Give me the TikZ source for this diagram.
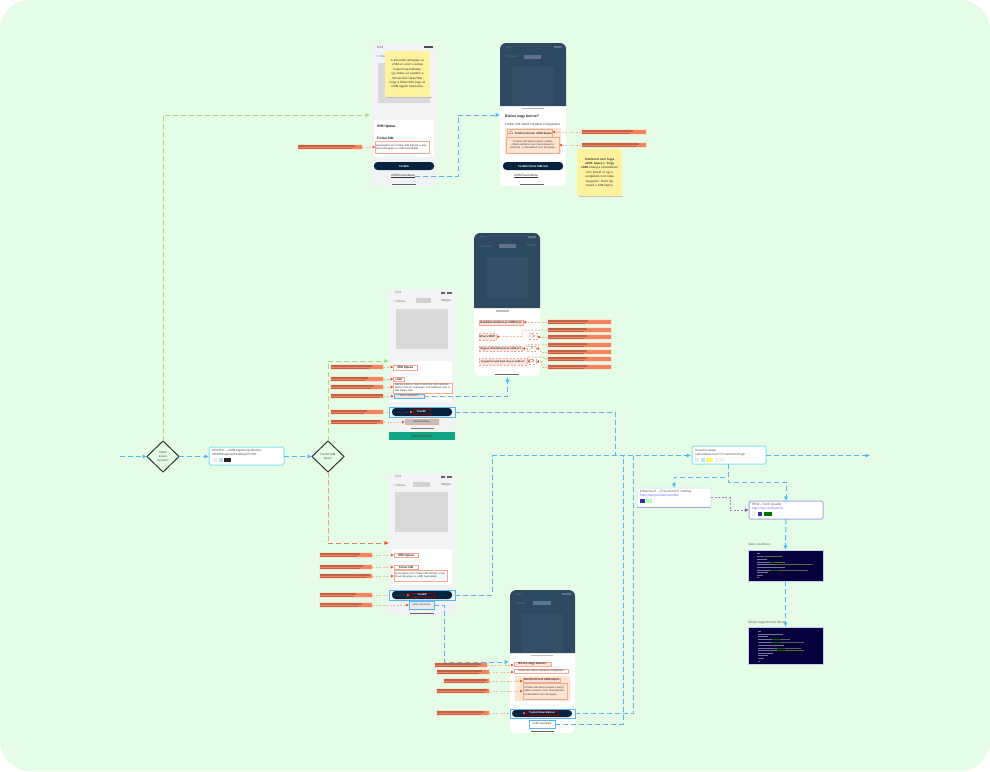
\documentclass[tikz,border=0pt]{standalone}
\usepackage{fontspec}
\setmainfont{Liberation Sans}
\usetikzlibrary{arrows.meta}
\definecolor{mint}{HTML}{E5FDE7}
\definecolor{phg}{HTML}{F2F3F5}
\definecolor{imgg}{HTML}{D9D9D9}
\definecolor{dk}{HTML}{2E4A63}
\definecolor{dkb}{HTML}{354F68}
\definecolor{dkt}{HTML}{5F7488}
\definecolor{navy}{HTML}{04233F}
\definecolor{flow}{HTML}{58B6F6}
\definecolor{flowg}{HTML}{A0DE78}
\definecolor{flowr}{HTML}{F0A68E}
\definecolor{flowra}{HTML}{EE5A30}
\definecolor{purp}{HTML}{B27CC6}
\definecolor{barf}{HTML}{F2845F}
\definecolor{bars}{HTML}{BE6249}
\definecolor{halo}{HTML}{F6E6CC}
\definecolor{hlf}{HTML}{FCE3DC}
\definecolor{hld}{HTML}{F7A890}
\definecolor{anna}{HTML}{F5BBA6}
\definecolor{anntip}{HTML}{EE5A30}
\definecolor{stick}{HTML}{FFF29E}
\definecolor{panel}{HTML}{FFE5D0}
\definecolor{code}{HTML}{05023D}
\definecolor{teal}{HTML}{10A683}
\definecolor{boxc}{HTML}{7FE6EA}
\definecolor{boxp}{HTML}{A3A8E4}
\definecolor{btnd}{HTML}{3A3040}
\tikzset{
  x=1pt,y=-1pt,
  sm/.style={font=\fontsize{3.1}{3.9}\selectfont,text=#1},
  sm/.default=black!75,
  phone/.style={fill=phg,rounded corners=5pt},
  phonew/.style={fill=white,rounded corners=5pt},
  card/.style={fill=white,rounded corners=2pt},
  img/.style={fill=imgg},
  btn/.style={fill=navy,rounded corners=3.5pt,font=\fontsize{2.8}{3.4}\selectfont\bfseries,text=white},
  bluehl/.style={draw=flow,line width=1pt},
  hl/.style={fill=hlf,draw=hld,line width=1pt,font=\fontsize{3}{3.6}\selectfont,text=black!80,align=left},
  hld2/.style={fill=hlf,draw=hld,line width=1pt,dash pattern=on 2pt off 1.5pt,font=\fontsize{3}{3.6}\selectfont,text=black!80},
  barn/.style={fill=barf,draw=halo,line width=1pt},
  ann/.style={draw=anna,line width=1pt,dash pattern=on 2pt off 1.5pt,-{Latex[length=2.8pt,width=2.8pt,color=anntip]}},
  fl/.style={draw=flow,line width=1pt,dash pattern=on 5pt off 3pt,-{Latex[length=4.5pt,width=4.5pt]}},
  flg/.style={fl,draw=flowg},
  flr/.style={fl,draw=flowr,-{Latex[length=4.5pt,width=4.5pt,color=flowra]}},
  flp/.style={draw=purp,line width=1pt,dash pattern=on 2pt off 1.5pt,-{Latex[length=4pt,width=4pt,color=purp!80!black]}},
  dia/.style={fill=mint,draw=black!80,line width=1pt},
  infobox/.style={fill=white,draw=boxc,line width=1pt,rounded corners=1.5pt},
  sticky/.style={fill=stick,font=\fontsize{3}{4.4}\selectfont,text=black!80,align=center},
  codeb/.style={fill=code,draw=boxp!60!white,line width=.3pt},
  lbl/.style={font=\fontsize{3.2}{4}\selectfont,text=black!60,anchor=west,inner sep=0pt},
  tx/.style={inner sep=0pt,anchor=west}
}
% name x1 y1 x2 y2 style text
\newcommand\bx[7]{\node[anchor=north west,inner sep=0pt,outer sep=0pt,minimum width={((#4)-(#2))*1pt},minimum height={((#5)-(#3))*1pt},#6] (#1) at (#2,#3) {#7};}
% name x1 y x2 stripe-end
\newcommand\orbar[5]{\bx{#1}{#2}{#3-2.6}{#4}{#3+2.6}{barn}{}
  \fill[bars] (#2+.5,#3-1.7) rectangle (#5,#3+.3);
  \fill[bars] (#2+.5,#3+.9) rectangle (#5-3,#3+1.9);}
\newcommand\swatch[5]{\fill[#5] (#1,#2) rectangle (#3,#4);}
% status + nav
\newcommand\chrome[4]{% x1 x2 y text colour
  \node[tx,sm=#4] (st#3) at (#1+6,#3+3.5) {9:41};
  \fill[#4] (#2-8,#3+2.5) rectangle (#2-3,#3+4.5);
  \fill[#4] (#2-14,#3+2.5) rectangle (#2-10,#3+4.5);
  \node[tx,sm=#4] (nav#3) at (#1+4,#3+12) {< Vissza};
  \node[anchor=east,inner sep=0pt,sm=#4] (can#3) at (#2-4,#3+12) {Mégse};
}
\begin{document}
\begin{tikzpicture}
\useasboundingbox (0,0) rectangle (990,771);
\fill[white] (0,0) rectangle (990,771);
\fill[mint,rounded corners=30pt] (0,0) rectangle (990,771);

% ---------- phone 1
\bx{p1}{372}{44}{437}{186}{phone}{}
\node[tx,sm] (p1t) at (377,47) {9:41};
\fill[black!70] (424,46) rectangle (433,48);
\node[tx,sm=black!60] (p1n) at (376,56) {< Vissza};
\bx{p1img}{378}{63}{430}{103}{img}{}
\bx{p1card}{374}{120}{434}{157}{card}{}
\node[tx,font=\fontsize{3.6}{4}\selectfont\bfseries,text=black!85] (p1a) at (377,127) {SIM típusa};
\node[tx,font=\fontsize{3.2}{4}\selectfont\bfseries,text=black!85] (p1b) at (377,138) {Fizikai SIM};
\bx{p1hl}{375.5}{141}{429}{153}{hl,fill=white,text width=52pt,inner sep=.5pt,font=\fontsize{2.5}{3.2}\selectfont}{Amennyiben nincs fizikai SIM kártyád, a telefonod támogatja az eSIM használatát}
\bx{p1btn}{374}{162}{434}{170}{btn}{Tovább}
\node[sm=black!80,inner sep=0pt] (p1l) at (403,176) {\underline{eSIM használata}};
\fill[black!60] (392,184) rectangle (416,185);
\fill[black!25] (386.5,97) rectangle (431.5,98);
\bx{s1}{385}{51}{430}{97}{sticky,text width=36pt,inner sep=0pt}{A készülék támogatja az eSIM-et, ezért a kártya helyett használhatja, így ebben az esetben a felhasználó választhat, hogy a fizikai SIM vagy az eSIM legyen használva.}
\orbar{b11}{297}{147}{362}{355}

% ---------- phone 2
\bx{p2}{500}{43}{566}{186}{phonew}{}
\fill[dk] (500,106) [rounded corners=6pt] -- (500,43) -- (566,43) [sharp corners] -- (566,106) -- cycle;
\fill[dkb] (512,67) rectangle (554,106);
\node[tx,sm=dkt] (p2t) at (506,47) {9:41};
\fill[dkt] (554,46) rectangle (562,48);
\node[tx,sm=dkt] (p2n) at (505,56) {< Vissza};
\fill[dkt] (524,55) rectangle (541,59);
\fill[black!30] (522,108) rectangle (544,109);
\node[tx,font=\fontsize{3.6}{4}\selectfont\bfseries,text=black!85] (p2a) at (505,117) {Biztos vagy benne?};
\node[tx,sm] (p2b) at (505,124.5) {Fizikai SIM nélkül folytatod a folyamatot.};
\bx{p2pan}{505}{128}{561}{154}{fill=panel}{}
\bx{p2h}{507.5}{129}{552}{137}{hl,fill=panel,font=\fontsize{2.9}{3.4}\selectfont\bfseries}{\,$\triangle$ Telefonod nem eSIM-képes}
\bx{p2q}{506.5}{137}{559}{153}{hl,fill=panel,text width=48pt,inner sep=.5pt,font=\fontsize{2.5}{3.2}\selectfont,align=center}{A fizikai SIM kártya helyett a kártya nélküli eszközön nem használhatod a telefonod. A készüléked nem támogatja.}
\bx{p2btn}{503}{162}{563}{170}{btn}{Tovább fizikai SIM-mel}
\node[sm=black!80,inner sep=0pt] (p2l) at (526,176) {\underline{eSIM használata}};
\fill[black!60] (520,184) rectangle (544,185);
\orbar{b21}{581}{132}{646}{633}
\orbar{b22}{581}{145}{646}{639}
\fill[black!22] (578.5,196) rectangle (622.5,197);
\bx{s2}{577}{149}{622}{196}{sticky,text width=37pt,inner sep=0pt}{\textbf{Telefonod nem fogja eSIM- képes-t. Fogy eSIM} elvileg a készüléknek nem érhető el, így a szolgáltató nem tudja megnyitni. Ezért így marad a SIM-kártya.}

% ---------- phone 3
\bx{p3}{389}{289}{455}{431}{phone}{}
\chrome{389}{455}{289}{black!60}
\bx{p3bar}{416}{298}{431}{303}{fill=black!18}{}
\bx{p3img}{396}{309}{448}{349}{img}{}
\bx{p3card}{392}{361}{452}{402}{card}{}
\bx{h31}{393.5}{365}{417}{370}{hl,fill=white,font=\fontsize{3.2}{3.6}\selectfont\bfseries}{SIM típusa}
\bx{h32}{393.5}{377}{404}{381.5}{hl,fill=white,font=\fontsize{2.8}{3.4}\selectfont\bfseries}{eSIM}
\bx{h33}{393.5}{383}{452}{393}{hl,fill=white,text width=56pt,inner sep=.5pt,font=\fontsize{2.5}{3}\selectfont}{Néhány eSIM-et csak a telefonon lehet aktiválni, amihez internet szükséges, és beállítások után a SIM kártya aktív}
\bx{h34}{394}{394}{424}{398}{fill=hlf,draw=flow,line width=1pt,font=\fontsize{2.5}{3}\selectfont,text=black!70}{Nincs eSIM-ed?}
\bx{p3btn}{392}{408}{452}{416}{btn}{}
\bx{p3bh}{389}{407}{455}{417}{bluehl}{}
\bx{h35}{413}{409.5}{430}{414}{draw=red!55!black,line width=.6pt,font=\fontsize{2.6}{3}\selectfont\bfseries,text=white}{Tovább}
\bx{h36}{405}{419.5}{438}{424}{fill=black!25,draw=hld,line width=1pt,font=\fontsize{2.4}{3}\selectfont,text=black!80}{eSIM beállítása}
\bx{p3grn}{389}{432}{455}{440}{fill=teal,font=\fontsize{3}{3.5}\selectfont\bfseries,text=black!70}{Bekövetkezhet}
\fill[black!50] (411,428) rectangle (434,429);
\orbar{b31}{330}{367}{383}{372}
\orbar{b32}{330}{379}{383}{368}
\orbar{b33}{330}{387}{383}{374}
\orbar{b34}{330}{396}{383}{382.5}
\orbar{b35}{330}{412}{383}{367}
\orbar{b36}{330}{422}{383}{380}

% ---------- phone 4
\bx{p4}{474}{233}{540}{376}{phonew}{}
\fill[dk] (474,308) [rounded corners=6pt] -- (474,233) -- (540,233) [sharp corners] -- (540,308) -- cycle;
\fill[dkb] (487,257) rectangle (528,298);
\node[tx,sm=dkt] (p4t) at (480,237) {9:41};
\fill[dkt] (528,236) rectangle (536,238);
\node[tx,sm=dkt] (p4n) at (479,246) {< Vissza};
\fill[dkt] (499,244) rectangle (516,248);
\node[anchor=east,inner sep=0pt,sm=dkt] (p4c) at (536,246) {Mégse};
\fill[black!25] (496,310) rectangle (509,312);
\bx{h41}{479}{320}{523}{325}{hl,font=\fontsize{3}{3.4}\selectfont\bfseries}{Beállítás közben az eSIM-hez}
\bx{h42}{479}{333.5}{496}{340}{hld2,font=\fontsize{2.8}{3.2}\selectfont\bfseries}{Mi az eSIM?}
\bx{h43}{479}{346}{522}{351}{hld2,font=\fontsize{2.6}{3.2}\selectfont\bfseries}{Hogyan aktiválhatom az eSIM-et?}
\bx{h44}{479}{358.5}{527}{365}{hld2,font=\fontsize{2.4}{3}\selectfont\bfseries}{Fogyasztói adatokkal meg az eSIM-et?}
\bx{c41}{529}{333}{537}{339.5}{hld2,fill=white}{\fontsize{3}{3}\selectfont$>$}
\bx{c42}{527}{346}{536}{351}{hld2,fill=white}{\fontsize{3}{3}\selectfont$>$}
\bx{c43}{529}{359}{536}{364}{hld2,fill=white}{\fontsize{3}{3}\selectfont$>$}
\fill[black!60] (495,374) rectangle (519,375);
\orbar{b41}{547}{322}{611}{588}
\orbar{b42}{547}{330}{611}{587}
\orbar{b43}{547}{337}{611}{587}
\orbar{b44}{547}{345}{611}{587}
\orbar{b45}{547}{352}{611}{587}
\orbar{b46}{547}{359}{611}{587}
\orbar{b47}{547}{367}{611}{587}

% ---------- phone 5
\bx{p5}{389}{473}{455}{615}{phone}{}
\chrome{389}{455}{473}{black!60}
\bx{p5bar}{413}{482}{430}{487}{fill=black!18}{}
\bx{p5img}{395}{492}{448}{532}{img}{}
\bx{p5card}{392}{549}{452}{585}{card}{}
\bx{h51}{394}{553}{418}{557.5}{hl,fill=white,font=\fontsize{3.2}{3.6}\selectfont\bfseries}{SIM típusa}
\bx{h52}{394}{565}{418}{569}{hl,fill=white,font=\fontsize{2.8}{3.2}\selectfont\bfseries}{Fizikai SIM}
\bx{h53}{394}{570.5}{447}{581}{hl,fill=white,text width=51pt,inner sep=.5pt,font=\fontsize{2.5}{3}\selectfont}{Amennyiben nincs fizikai SIM kártyád, a telefonod támogatja az eSIM használatát}
\bx{p5btn}{392}{591}{452}{599}{btn}{}
\bx{p5bh}{389}{590}{455}{600}{bluehl}{}
\bx{h54}{410}{593}{434}{597}{draw=red!55!black,line width=.6pt,font=\fontsize{2.6}{3}\selectfont\bfseries,text=white}{Tovább}
\bx{h55}{409}{601}{434}{609}{draw=flow,line width=1pt,fill=black!8,font=\fontsize{2.4}{3}\selectfont,text=black!75}{eSIM használata}
\fill[black!60] (410,613) rectangle (434,614);
\orbar{b51}{319}{555}{372}{360}
\orbar{b52}{319}{567}{372}{363}
\orbar{b53}{319}{576}{372}{370}
\orbar{b54}{319}{595}{372}{356}
\orbar{b55}{319}{605}{372}{362}

% ---------- phone 6
\bx{p6}{510}{590}{575}{733}{phonew}{}
\fill[dk] (510,653) [rounded corners=6pt] -- (510,590) -- (575,590) [sharp corners] -- (575,653) -- cycle;
\fill[dkb] (522,614) rectangle (563,653);
\node[tx,sm=dkt] (p6t) at (516,594) {9:41};
\fill[dkt] (562,593) rectangle (571,595);
\node[tx,sm=dkt] (p6n) at (514,603) {< Vissza};
\fill[dkt] (533,601) rectangle (551,605);
\fill[black!25] (531,655) rectangle (553,656);
\bx{h61}{514}{662}{551}{666}{hl,font=\fontsize{3}{3.4}\selectfont\bfseries}{Biztos vagy benne?}
\bx{h62}{514}{669}{568}{673}{hl,fill=white,font=\fontsize{2.6}{3}\selectfont}{Fizikai SIM nélkül folytatod a folyamatot.}
\bx{p6pan}{515}{676}{570}{701}{fill=panel}{}
\bx{h63}{523}{678}{560}{682}{hl,font=\fontsize{2.8}{3.2}\selectfont\bfseries}{Telefonod nem eSIM-képes}
\bx{h64}{523}{683.5}{567}{699}{hl,fill=panel,text width=42pt,inner sep=.5pt,font=\fontsize{2.5}{3.1}\selectfont}{A fizikai SIM kártya helyett a kártya nélküli eszközön nem használhatod. A készüléked nem támogatja.}
\bx{p6btn}{512}{710}{572}{717}{btn}{}
\bx{p6bh}{510}{709}{575}{718}{bluehl}{}
\bx{h65}{526}{711}{558}{715}{draw=red!55!black,line width=.6pt,font=\fontsize{2.4}{3}\selectfont\bfseries,text=white}{Tovább fizikai SIM-mel}
\bx{h66}{529}{720}{555}{728}{draw=flow,line width=1pt,font=\fontsize{2.5}{3}\selectfont,text=black!80}{eSIM használata}
\fill[black!60] (531,731) rectangle (554,732);
\orbar{b61}{434}{665}{487}{481}
\orbar{b62}{436}{672}{489}{482}
\orbar{b63}{443}{681}{489}{487}
\orbar{b64}{436}{691}{489}{487}
\orbar{b65}{436}{713}{489}{484}

% ---------- left flow
\coordinate (inl) at (120,456.5);
\path[dia,draw] (147,456.5) -- (163,441) -- (179,456.5) -- (163,472) -- cycle;
\node[align=center,font=\fontsize{3}{3.6}\selectfont,text=black!70,inner sep=0pt] (d1t) at (163,456.5) {Mobil\\képes\\kezelni?};
\coordinate (d1N) at (163,441); \coordinate (d1E) at (179,456.5); \coordinate (d1W) at (147,456.5);
\bx{bx1}{209}{447}{284}{465}{infobox}{}
\node[font=\fontsize{3.1}{3.9}\selectfont,text=black!70,anchor=north west,align=left,inner sep=0pt] (bx1t) at (212,449.5) {ADATOK -- eSIM képesség ellenőrz.\\/ONMW/api/card/settings/PUSH};
\swatch{213}{458}{217}{462}{black!8}
\swatch{219}{458}{223}{462}{cyan!30}
\swatch{224}{458}{231}{462}{black!85}
\path[dia,draw] (312,456.5) -- (328,441) -- (344,456.5) -- (328,472) -- cycle;
\node[align=center,font=\fontsize{3}{3.6}\selectfont,text=black!70,inner sep=0pt] (d2t) at (328,456.5) {Kezdő SIM\\típus?};
\coordinate (d2N) at (328,441); \coordinate (d2S) at (328,472); \coordinate (d2W) at (312,456.5);

% ---------- right flow
\bx{bxs}{692}{446}{766}{464}{infobox}{}
\node[font=\fontsize{3.1}{3.9}\selectfont,text=black!65,anchor=north west,align=left,inner sep=0pt] (bxst) at (695,449) {Dimetha adatai\\/api/adapter/user/v7/customer/single};
\swatch{695}{458}{699}{462}{black!8}
\swatch{701}{458}{705}{462}{cyan!30}
\swatch{706}{458}{713}{462}{yellow!60}
\swatch{715}{458}{725}{462}{black!5}
\bx{bxl}{637}{488}{711}{507}{infobox,draw=boxp!30!white}{}
\draw[boxp,line width=1pt] (bxl.south west) -- (bxl.south east);
\node[font=\fontsize{3.1}{3.9}\selectfont,text=black!65,anchor=north west,align=left,inner sep=0pt] (bxlt) at (640,490.5) {ESIM Kezd. -- [Transzform?] indítása\\\textcolor{blue!60}{https://api.provider/esim/BO}};
\swatch{640}{499}{645}{503}{blue!50!black!80}
\swatch{646}{499}{652}{503}{green!30}
\bx{bxr}{749}{501}{823}{519}{infobox,draw=boxp}{}
\node[font=\fontsize{3.1}{3.9}\selectfont,text=black!65,anchor=north west,align=left,inner sep=0pt] (bxrt) at (752,503) {REM -- Fetch Quarkly\\\textcolor{blue!60}{https://api.rem/esim/cd}};
\swatch{752}{512}{756}{516}{black!6}
\swatch{758}{512}{762}{516}{blue!50!black!80}
\swatch{764}{512}{772}{516}{green!45!black}

\node[lbl] (c1l) at (748,545) {Siker eredmény};
\bx{c1}{748}{550}{823}{581}{codeb}{}
\node[lbl] (c2l) at (748,623) {Hibás megjelenítési felület};
\bx{c2}{748}{627}{823}{664}{codeb}{}
\colorlet{cl}{code!55!white}
\foreach \y/\a/\b in {553/757/760, 556/757/782, 559/757/767, 561.5/757/785, 564/757/813, 567/757/785, 569.5/757/808, 572/757/768, 574.5/757/763, 577/757/759}{
  \fill[cl] (\a,\y) rectangle (\b,\y+1);
}
\foreach \y/\a/\b in {561.5/770/775, 569.5/770/778}{\fill[green!40!black] (\a,\y) rectangle (\b,\y+1);}
\foreach \y/\a/\b in {561.5/775/785, 564/775/813, 569.5/778/808, 556/762/782}{\fill[yellow!30!black] (\a,\y) rectangle (\b,\y+1);}
\foreach \y/\a/\b in {631/758/761, 633.5/758/783, 636/758/768, 639/758/790, 642/758/804, 645/758/784, 647.5/758/801, 650/758/804, 652.5/758/773, 655/758/768, 658/758/764, 660.5/758/760}{
  \fill[cl] (\a,\y) rectangle (\b,\y+1);
}
\foreach \y/\a/\b in {639/772/780, 642/772/780, 647.5/777/785, 650/777/785}{\fill[green!40!black] (\a,\y) rectangle (\b,\y+1);}
\foreach \y/\a/\b in {639/780/790, 642/780/804, 647.5/785/801, 650/785/804}{\fill[yellow!30!black] (\a,\y) rectangle (\b,\y+1);}

% ---------- coordinates of free ends
\coordinate (outr) at (870,455.5);
\coordinate (p1in) at (370,115);
\coordinate (p2in) at (500,115);
\coordinate (p3in) at (389,361);
\coordinate (p5in) at (389,543);
\coordinate (p5c) at (328,543);
\coordinate (p6in) at (509,662);
\coordinate (p4in) at (507.5,377);
\coordinate (bxsE) at (766,455.5);
\coordinate (bxsW) at (691,455.5);
\coordinate (bxsS) at (728,464);
\coordinate (bxlN) at (674,488);
\coordinate (bxrN) at (786,501);

% ---------- flow connectors
\draw[fl] (inl) -- (d1W);
\draw[fl] (d1E) -- (bx1.west |- d1E);
\draw[fl] (bx1.east |- d2W) -- (d2W);
\draw[flg] (d1N) |- (p1in);
\draw[flg] (d2N) |- (p3in);
\draw[flr,-] (d2S) -- (p5c);
\draw[flr,draw=flowra!80!white] (p5c) -- (p5in);
\draw[fl] (p1l.east) -- (458,176) |- (p2in);
\draw[fl] (h34.east) -- (507.5,396) -- (p4in);
\draw[fl,-] (p3bh.east) -| (615,456);
\draw[fl] (p5bh.east) -- (492,595) |- (bxsW);
\draw[fl] (h55.east) -- (444,605) |- (p6in);
\draw[fl,-] (p6bh.east) -| (633,455.5);
\draw[fl,-] (h66.east) -| (623,455.5);
\draw[fl] (bxsE) -- (outr);
\draw[fl] (bxsS) -- (728,477) -| (bxlN);
\draw[fl] (bxsS) -- (728,482) -| (bxrN);
\draw[flp] (bxl.east) -- (730,497.5) |- (bxr.west);
\draw[fl] (bxr.south) -- (c1.north);
\draw[fl] (c1.south) -- (c2.north);

% ---------- annotation connectors
\foreach \b/\t in {b11/p1hl,b31/h31,b32/h32,b33/h33,b34/h34,b36/h36,b51/h51,b52/h52,b53/h53,b55/h55,b61/h61,b62/h62,b63/h63,b64/h64}{
  \draw[ann] (\b.east) -- (\t.west |- \b.east);
}
\draw[ann,-] (b35.east) -- (p3bh.west |- b35.east);
\draw[ann,draw=btnd] (p3btn.west |- b35.east) -- (h35.west |- b35.east);
\draw[ann,-] (b54.east) -- (p5bh.west |- b54.east);
\draw[ann,draw=btnd] (p5btn.west |- b54.east) -- (h54.west |- b54.east);
\draw[ann,-] (b65.east) -- (p6bh.west |- b65.east);
\draw[ann,draw=btnd] (p6btn.west |- b65.east) -- (h65.west |- b65.east);
\draw[ann] (b21.west) -- (p2h.east |- b21.west);
\draw[ann] (b22.west) -- (p2q.east |- b22.west);
\draw[ann] (b41.west) -- (h41.east |- b41.west);
\draw[ann] (b42.west) -- (522,330) -- (522,336.5) -- (h42.east);
\draw[ann] (b43.west) -- (c41.east |- b43.west);
\draw[ann] (b44.west) -- (526,344.5) -- (526,348.5) -- (h43.east);
\draw[ann] (b45.west) -- (540,352) -- (540,348.5) -- (c42.east);
\draw[ann] (b46.west) -- (542,357) -- (528,357) -- (528,361.5) -- (h44.east);
\draw[ann] (b47.west) -- (541,367) -- (541,361.5) -- (c43.east);
\end{tikzpicture}
\end{document}
